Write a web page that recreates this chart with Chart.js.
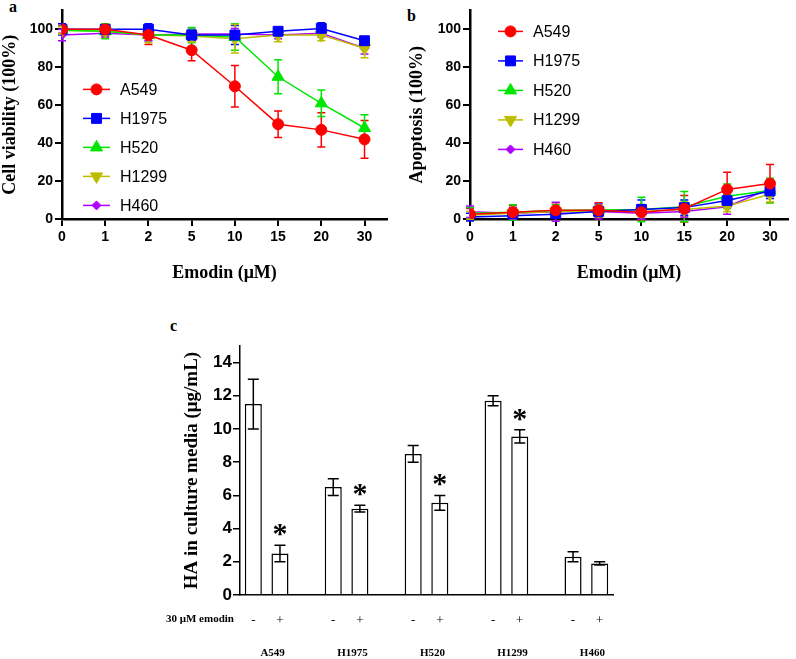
<!DOCTYPE html>
<html>
<head>
<meta charset="utf-8">
<script src="https://cdn.jsdelivr.net/npm/chart.js@4.4.0/dist/chart.umd.min.js"></script>
<style>
  body { margin: 0; background: #fff; width: 796px; height: 659px; position: relative; overflow: hidden; }
  canvas { position: absolute; }
  .panel { position: absolute; font: bold 16px "Liberation Serif", serif; line-height: 1; }
</style>
</head>
<body>
<div class="panel" style="left:9px;top:-1px">a</div>
<div class="panel" style="left:407px;top:8px">b</div>
<div class="panel" style="left:170px;top:318px">c</div>
<canvas id="chartA" width="400" height="300" style="left:0;top:0"></canvas>
<canvas id="chartB" width="396" height="300" style="left:400px;top:0"></canvas>
<canvas id="chartC" width="480" height="339" style="left:150px;top:320px"></canvas>
<script>
// emodin doses (x axis of a and b) and cell lines
var doses = ['0', '1', '2', '5', '10', '15', '20', '30'];
var cellLines = ['A549', 'H1975', 'H520', 'H1299', 'H460'];
var lineColors = ['#ff0000', '#0000ff', '#00e600', '#bdbd00', '#b000ff'];

// panel a: cell viability (%)
var viaA549  = [100, 100, 97, 89, 70, 50, 47, 42];
var viaH1975 = [100, 100, 100, 97, 97, 99, 100.5, 94];
var viaH520  = [99.5, 99, 97, 97, 96, 75, 61, 48];
var viaH1299 = [99.5, 99, 97, 96.5, 95, 97, 97, 90];
var viaH460  = [97, 98, 97, 97.5, 97.5, 97, 98, 90];
var viaErrA549  = [2, 3, 5, 5.5, 11, 7, 9, 10];
var viaErrH1975 = [3, 2, 3, 3, 5, 1.5, 3, 1.5];
var viaErrH520  = [2, 4, 3, 4, 7, 9, 7, 7];
var viaErrH1299 = [2, 3, 4, 3, 7.5, 3.5, 3, 5];
var viaErrH460  = [3, 2, 3, 2, 3, 2, 2, 3];

// panel b: apoptosis (%)
var apoA549  = [2.5, 3.6, 4.6, 4.6, 3.6, 5.4, 15.6, 18.7];
var apoH1975 = [1, 1.7, 2.5, 4, 5, 6, 9.7, 14.8];
var apoH520  = [3, 3.5, 4.5, 4.8, 5, 6.5, 12, 15];
var apoH1299 = [2, 3, 4, 4.2, 4, 5, 6.8, 13];
var apoH460  = [3.8, 3, 3.8, 4, 3, 4, 6.5, 16];
var apoErrA549  = [3, 3.5, 4, 4, 4, 7, 9, 10];
var apoErrH1975 = [2, 2, 2, 3, 5, 4, 3, 4];
var apoErrH520  = [3, 4, 3, 3, 6.5, 8, 6.5, 6.5];
var apoErrH1299 = [2, 2, 3, 3, 3, 4, 3, 4];
var apoErrH460  = [3, 3, 5, 4, 3, 3, 4, 4];

// panel c: HA in culture media, control (-) and 30 uM emodin (+)
var haControl = [11.5, 6.5, 8.5, 11.7, 2.3];
var haEmodin  = [2.5, 5.2, 5.55, 9.55, 1.9];
var haErrControl = [1.5, 0.5, 0.5, 0.3, 0.3];
var haErrEmodin  = [0.5, 0.2, 0.45, 0.4, 0.1];
var haStar = [true, true, true, true, false];

var pointStyles = ['circle', 'rect', 'triangle', 'triangle', 'rectRot'];
var pointRadii = [5.5, 7, 7, 7, 4.5];
var pointRot = [0, 0, 0, 180, 0];

function lineSets(values, errs) {
  return cellLines.map(function (name, i) {
    return {
      label: name,
      data: values[i],
      errors: errs[i],
      borderColor: lineColors[i],
      backgroundColor: lineColors[i],
      pointBackgroundColor: lineColors[i],
      pointBorderColor: lineColors[i],
      pointStyle: pointStyles[i],
      pointRadius: pointRadii[i],
      pointRotation: pointRot[i],
      pointBorderWidth: 1,
      borderWidth: 1.5,
      tension: 0
    };
  });
}

// vertical error bars with caps, from data +/- error
var errorBars = {
  id: 'errorBars',
  draw: function (chart, opts) {
    var ctx = chart.ctx, y = chart.scales.y;
    chart.data.datasets.forEach(function (ds, i) {
      if (!ds.errors) return;
      var meta = chart.getDatasetMeta(i);
      ctx.save();
      ctx.strokeStyle = opts.color || ds.borderColor;
      ctx.lineWidth = opts.width || 1.5;
      meta.data.forEach(function (el, j) {
        var v = ds.data[j], e = ds.errors[j];
        if (v == null || e == null) return;
        var top = y.getPixelForValue(v + e), bot = y.getPixelForValue(v - e), c = opts.cap;
        ctx.beginPath();
        ctx.moveTo(el.x, top); ctx.lineTo(el.x, bot);
        ctx.moveTo(el.x - c, top); ctx.lineTo(el.x + c, top);
        ctx.moveTo(el.x - c, bot); ctx.lineTo(el.x + c, bot);
        ctx.stroke();
      });
      ctx.restore();
    });
  },
  beforeDatasetsDraw: function (chart, args, opts) { if (!opts.after) this.draw(chart, opts); },
  afterDatasetsDraw: function (chart, args, opts) { if (opts.after) this.draw(chart, opts); }
};

// legend with a line through the marker, placed inside the plot
var lineLegend = {
  id: 'lineLegend',
  afterDraw: function (chart, args, opts) {
    var ctx = chart.ctx, area = chart.chartArea;
    chart.data.datasets.forEach(function (ds, i) {
      var x0 = area.left + opts.x, y = area.top + opts.y + i * opts.gap;
      ctx.save();
      ctx.strokeStyle = ds.borderColor;
      ctx.fillStyle = ds.pointBackgroundColor;
      ctx.lineWidth = 1.5;
      ctx.beginPath(); ctx.moveTo(x0, y); ctx.lineTo(x0 + opts.len, y); ctx.stroke();
      ctx.lineWidth = 1;
      if (Chart.helpers && Chart.helpers.drawPoint) {
        Chart.helpers.drawPoint(ctx, { pointStyle: ds.pointStyle, radius: ds.pointRadius, rotation: ds.pointRotation, borderWidth: 1 }, x0 + opts.len / 2, y);
      } else {
        ctx.beginPath(); ctx.arc(x0 + opts.len / 2, y, ds.pointRadius, 0, Math.PI * 2); ctx.fill();
      }
      ctx.fillStyle = '#000';
      ctx.font = '16px "Liberation Sans", Arial, sans-serif';
      ctx.textBaseline = 'middle';
      ctx.fillText(ds.label, x0 + opts.len + 10, y + 1);
      ctx.restore();
    });
  }
};

var tickFont = { family: '"Liberation Sans", Arial, sans-serif', weight: 'bold', size: 14 };
var titleFont = { family: '"Liberation Serif", "Times New Roman", serif', weight: 'bold', size: 18 };

function lineOptions(yTitle, yWidth, yTitlePad, xMax, right, legend) {
  var grid = { display: true, drawOnChartArea: false, drawTicks: true, tickLength: 7, color: '#000', lineWidth: 2 };
  var border = { display: true, color: '#000', width: 2.5 };
  return {
    responsive: false,
    animation: false,
    layout: { padding: { top: 3, right: right, left: 0, bottom: 0 } },
    plugins: {
      legend: { display: false },
      tooltip: { enabled: false },
      errorBars: { cap: 4, width: 1.5 },
      lineLegend: legend
    },
    scales: {
      x: {
        type: 'linear', min: 0, max: xMax,
        afterFit: function (s) { s.height = 81; },
        ticks: { stepSize: 1, includeBounds: false, autoSkip: false, maxRotation: 0, padding: 3, color: '#000', font: tickFont,
          callback: function (v) { return doses[v]; } },
        grid: grid, border: border,
        title: { display: true, text: 'Emodin (μM)', color: '#000', font: titleFont, padding: { top: 0, bottom: 16 } }
      },
      y: {
        min: 0, max: 110,
        afterFit: function (s) { s.width = yWidth; },
        ticks: { stepSize: 20, includeBounds: false, padding: 2, color: '#000', font: tickFont },
        grid: grid, border: border,
        title: { display: true, text: yTitle, color: '#000', font: titleFont, padding: { top: yTitlePad, bottom: 0 } }
      }
    }
  };
}

var doseIdx = doses.map(function (d, i) { return i; });

new Chart(document.getElementById('chartA'), {
  type: 'line',
  data: {
    labels: doseIdx,
    datasets: lineSets([viaA549, viaH1975, viaH520, viaH1299, viaH460],
                       [viaErrA549, viaErrH1975, viaErrH520, viaErrH1299, viaErrH460])
  },
  options: lineOptions('Cell viability (100%)', 62, 0, 7.52, 13, { x: 21, y: 79, gap: 29, len: 27 }),
  plugins: [errorBars, lineLegend]
});

new Chart(document.getElementById('chartB'), {
  type: 'line',
  data: {
    labels: doseIdx,
    datasets: lineSets([apoA549, apoH1975, apoH520, apoH1299, apoH460],
                       [apoErrA549, apoErrH1975, apoErrH520, apoErrH1299, apoErrH460])
  },
  options: lineOptions('Apoptosis (100%)', 70, 7, 7.42, 6, { x: 28, y: 21, gap: 29.5, len: 25 }),
  plugins: [errorBars, lineLegend]
});

// panel c: slots "-", "+", gap for each cell line
var barLabels = [], barValues = [], barErrs = [];
cellLines.forEach(function (name, k) {
  barLabels.push('-', '+');
  barValues.push(haControl[k], haEmodin[k]);
  barErrs.push(haErrControl[k], haErrEmodin[k]);
  if (k < cellLines.length - 1) { barLabels.push(''); barValues.push(null); barErrs.push(null); }
});

var barNotes = {
  id: 'barNotes',
  afterDraw: function (chart) {
    var ctx = chart.ctx, area = chart.chartArea, x = chart.scales.x, y = chart.scales.y;
    ctx.save();
    ctx.fillStyle = '#000';
    ctx.font = 'bold 11px "Liberation Serif", serif';
    ctx.textBaseline = 'middle';
    ctx.textAlign = 'left';
    ctx.fillText('30 μM emodin', 16, area.bottom + 24);
    ctx.textAlign = 'center';
    cellLines.forEach(function (name, k) {
      var cx = (x.getPixelForValue(k * 3) + x.getPixelForValue(k * 3 + 1)) / 2;
      ctx.fillText(name, cx + 6, area.bottom + 58);
    });
    // significance stars above the emodin bars
    ctx.font = 'bold 30px "Liberation Serif", serif';
    ctx.textBaseline = 'alphabetic';
    var m = ctx.measureText('*');
    var mid = (m.actualBoundingBoxAscent - m.actualBoundingBoxDescent) / 2;
    cellLines.forEach(function (name, k) {
      if (!haStar[k]) return;
      var top = y.getPixelForValue(haEmodin[k] + haErrEmodin[k]);
      ctx.fillText('*', x.getPixelForValue(k * 3 + 1), top - 15 + mid);
    });
    ctx.restore();
  }
};

new Chart(document.getElementById('chartC'), {
  type: 'bar',
  data: {
    labels: barLabels,
    datasets: [{
      data: barValues,
      errors: barErrs,
      backgroundColor: '#fff',
      borderColor: '#000',
      borderWidth: 1.5,
      barPercentage: 0.64,
      categoryPercentage: 1
    }]
  },
  options: {
    responsive: false,
    animation: false,
    layout: { padding: { top: 26, right: 17, left: 0, bottom: 0 } },
    plugins: {
      legend: { display: false },
      tooltip: { enabled: false },
      errorBars: { cap: 5.5, width: 1.5, color: '#000', after: true }
    },
    scales: {
      x: {
        type: 'category', offset: true,
        afterFit: function (s) { s.height = 64; },
        grid: { display: false, drawTicks: false },
        border: { display: true, color: '#000', width: 1.5 },
        ticks: { autoSkip: false, maxRotation: 0, padding: 18, color: '#000', font: { family: '"Liberation Serif", serif', size: 13 } }
      },
      y: {
        min: 0, max: 15,
        afterFit: function (s) { s.width = 90; },
        ticks: { stepSize: 2, includeBounds: false, padding: 1, color: '#000', font: { family: '"Liberation Sans", Arial, sans-serif', weight: 'bold', size: 17 } },
        grid: { display: true, drawOnChartArea: false, drawTicks: true, tickLength: 7, color: '#000', lineWidth: 1.5 },
        border: { display: true, color: '#000', width: 1.5 },
        title: { display: true, text: 'HA in culture media (μg/mL)', color: '#000',
          font: { family: '"Liberation Serif", "Times New Roman", serif', weight: 'bold', size: 19 }, padding: { top: 31, bottom: 0 } }
      }
    }
  },
  plugins: [errorBars, barNotes]
});
</script>
</body>
</html>
